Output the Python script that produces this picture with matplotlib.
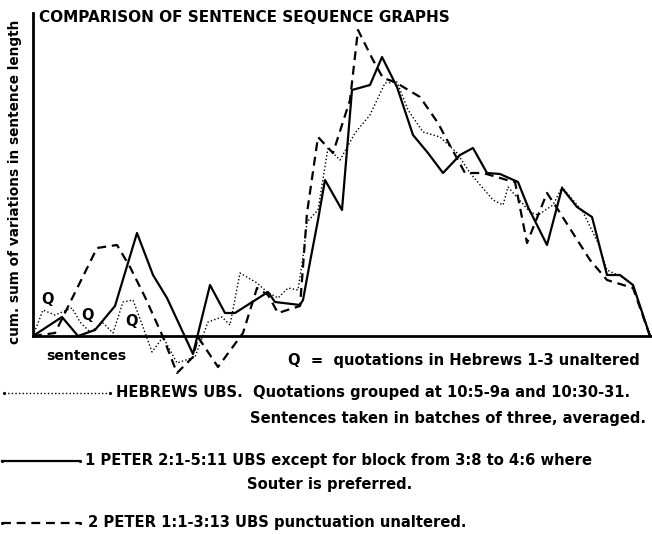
import matplotlib
matplotlib.use("Agg")
import matplotlib.pyplot as plt
from matplotlib.lines import Line2D

plt.rcParams['font.family'] = ['DejaVu Sans']
plt.rcParams['font.weight'] = 'bold'

# sentence position (arbitrary units) and cumulative sum of variations (arbitrary units)
heb_x = [0, 10, 22, 39, 47, 57, 70, 80, 90, 100, 110, 119, 130, 144, 162, 175, 189,
         197, 207, 224, 234, 245, 255, 265, 270, 274, 285, 295, 307, 322, 337, 352,
         364, 375, 390, 407, 424, 437, 460, 470, 475, 497, 505, 520, 529, 550, 565,
         574, 589, 600, 617]
heb_y = [0, 26, 21, 28, 14, 4, 13, 3, 34, 36, 9, -16, -1, -27, -21, 14, 19, 11, 63,
         53, 44, 38, 48, 46, 79, 114, 126, 188, 176, 203, 221, 253, 254, 226, 204,
         199, 183, 163, 136, 131, 149, 124, 121, 131, 149, 124, 93, 66, 59, 51, 0]

pet1_x = [0, 29, 45, 62, 82, 104, 120, 134, 160, 177, 192, 202, 235, 242, 267, 270,
          277, 285, 292, 309, 319, 337, 349, 364, 380, 395, 410, 427, 440, 454, 467,
          485, 495, 514, 529, 544, 559, 574, 587, 600, 617]
pet1_y = [0, 19, 0, 6, 30, 103, 61, 38, -18, 51, 23, 23, 44, 34, 31, 36, 74, 116,
          156, 126, 246, 251, 279, 249, 201, 183, 163, 181, 188, 163, 162, 154, 129,
          91, 148, 129, 119, 61, 61, 51, 0]

pet2_x = [0, 22, 64, 84, 97, 112, 130, 144, 160, 165, 185, 210, 224, 235, 245, 267,
          270, 274, 285, 300, 317, 325, 340, 350, 362, 387, 405, 414, 432, 450, 474,
          482, 494, 514, 522, 557, 574, 600, 617]
pet2_y = [0, 3, 88, 91, 69, 39, -1, -37, -21, -1, -31, 3, 48, 41, 23, 30, 69, 123,
          199, 183, 236, 306, 276, 258, 254, 239, 213, 196, 163, 163, 156, 154, 93,
          143, 131, 76, 56, 48, 0]

W, H = 652, 534
fig = plt.figure(figsize=(W / 100, H / 100), dpi=100)
ax = fig.add_axes([33 / W, 1 - 380 / H, 618 / W, 370 / H])

ax.plot(heb_x, heb_y, color='black', lw=1.0, linestyle=(0, (1, 1.6)))
ax.plot(pet1_x, pet1_y, color='black', lw=1.6, linestyle='-')
ax.plot(pet2_x, pet2_y, color='black', lw=1.6, linestyle=(0, (4, 2.6)))

ax.set_xlim(0, 618)
ax.set_ylim(-44, 326)
ax.set_xticks([])
ax.set_yticks([])
ax.spines['top'].set_visible(False)
ax.spines['right'].set_visible(False)
ax.spines['bottom'].set_position(('data', 0))
ax.spines['left'].set_bounds(0, 323)
ax.spines['left'].set_linewidth(2)
ax.spines['bottom'].set_linewidth(2)
ax.patch.set_visible(False)

# quotation markers
for qx, qy in [(14, 36), (55, 20), (98, 14)]:
    ax.text(qx, qy, 'Q', fontsize=10.5, fontweight='bold', ha='center', va='center')

fig.text(39 / W, 1 - 17 / H, 'COMPARISON OF SENTENCE SEQUENCE GRAPHS',
         fontsize=11, va='center', ha='left')
fig.text(15 / W, 1 - 182 / H, 'cum. sum of variations in sentence length',
         fontsize=9.85, rotation=90, va='center', ha='center')
fig.text(46 / W, 1 - 356 / H, 'sentences', fontsize=10.1, va='center', ha='left')
fig.text(288 / W, 1 - 360 / H, 'Q  =  quotations in Hebrews 1-3 unaltered',
         fontsize=10.6, va='center', ha='left')

# legend drawn by hand, as in the original
legend_rows = [
    ((0, (1, 1.6)), 1.0, 4, 110, 393, 116,
     'HEBREWS UBS.  Quotations grouped at 10:5-9a and 10:30-31.'),
    ('-', 1.6, 2, 80, 461, 85,
     '1 PETER 2:1-5:11 UBS except for block from 3:8 to 4:6 where'),
    ((0, (4, 2.6)), 1.6, 2, 80, 523, 88,
     '2 PETER 1:1-3:13 UBS punctuation unaltered.'),
]
for ls, lw, x0, x1, py, tx, label in legend_rows:
    fig.add_artist(Line2D([x0 / W, x1 / W], [1 - py / H] * 2, color='black',
                          lw=lw, linestyle=ls, marker='.', markersize=2.5,
                          markevery=[0, 1]))
    fig.text(tx / W, 1 - py / H, label, fontsize=10.6, va='center', ha='left')
fig.text(646 / W, 1 - 418 / H, 'Sentences taken in batches of three, averaged.',
         fontsize=10.6, va='center', ha='right')
fig.text(330 / W, 1 - 485 / H, 'Souter is preferred.',
         fontsize=10.6, va='center', ha='center')

fig.savefig('out.png', dpi=100)
